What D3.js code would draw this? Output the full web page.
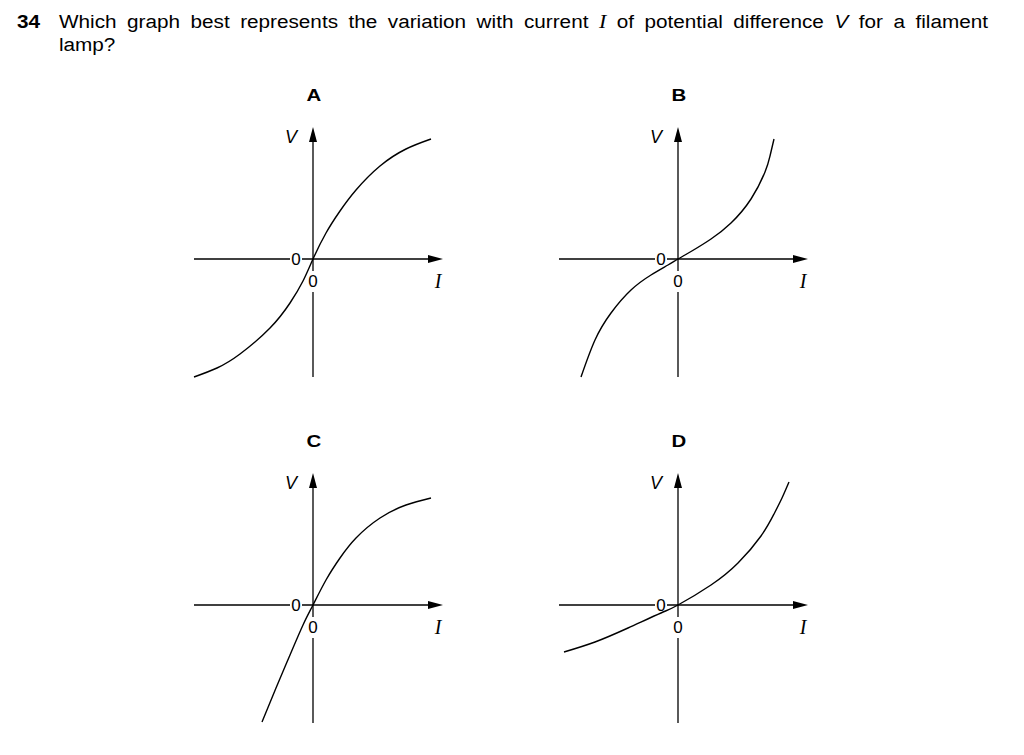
<!DOCTYPE html>
<html>
<head>
<meta charset="utf-8">
<script src="https://cdn.jsdelivr.net/npm/d3@7"></script>
<style>
  html, body { margin: 0; padding: 0; background: #fff; }
  svg { display: block; }
</style>
</head>
<body>
<svg id="chart" width="1024" height="755"></svg>
<script>
// ---- data (arbitrary units) ----
const questionNumber = "34";
const questionLine1 = ["Which","graph","best","represents","the","variation","with","current","I","of","potential","difference","V","for","a","filament"];
const questionLine2 = "lamp?";
const panelLetters = ["A", "B", "C", "D"];
const zeroLabel = "0";
const xAxisLabel = "I";
const yAxisLabel = "V";

const aI = [-11.9, -9.6, -7.3, -4.3, -2.3, -1.0, 0, 1.3, 2.7, 4.3, 6.7, 9.3, 11.8];
const aV = [-11.8, -10.9, -9.5, -6.9, -4.4, -2.2, 0, 2.6, 4.8, 6.9, 9.3, 11.0, 12.0];

const bI = [-9.7, -8.3, -6.7, -4.7, -2.7, -1.0, 0, 1.3, 3.3, 5.3, 7.3, 8.7, 9.2, 9.6];
const bV = [-11.8, -8.1, -5.4, -3.1, -1.6, -0.6, 0, 0.75, 2.0, 3.6, 6.0, 8.7, 10.3, 12.0];

const cI = [-5.1, -3.7, -2.3, -1.0, 0, 1.3, 2.7, 4.3, 6.7, 9.3, 11.8];
const cV = [-11.7, -8.3, -5.0, -2.0, 0, 2.5, 4.7, 6.7, 8.7, 10.0, 10.7];

const dI = [-11.4, -8.3, -5.0, -1.7, 0, 3.3, 6.0, 8.3, 9.6, 10.4, 11.1];
const dV = [-4.7, -3.7, -2.3, -0.8, 0, 2.0, 4.2, 6.9, 9.1, 10.7, 12.3];

const seriesI = [aI, bI, cI, dI];
const seriesV = [aV, bV, cV, dV];

const iDomain = [-11.9, 13.0];
const vDomain = [-11.8, 13.2];

// ---- layout ----
const svg = d3.select("#chart");
const sans = "'Liberation Sans', Arial, sans-serif";
const serif = "'Liberation Serif', 'Times New Roman', serif";
const stretch = 1.15;

function stretched(t, s) {
  const w = t.node().getComputedTextLength() * (s || stretch);
  t.attr("textLength", w).attr("lengthAdjust", "spacingAndGlyphs");
  return w;
}

// title, justified like the original
const title = svg.append("g");
const num = title.append("text")
  .attr("x", 17).attr("y", 27.5)
  .attr("font-family", sans).attr("font-size", 18).attr("font-weight", "bold")
  .text(questionNumber);
stretched(num);

const wordNodes = questionLine1.map(w => title.append("text")
    .attr("y", 27.5)
    .attr("font-size", w === "I" ? 19 : 18)
    .attr("font-family", w === "I" ? serif : sans)
    .attr("font-style", (w === "I" || w === "V") ? "italic" : "normal")
    .text(w));
const widths = wordNodes.map(t => stretched(t));
const left = 59, right = 988;
const gap = (right - left - d3.sum(widths)) / (wordNodes.length - 1);
let cx = left;
wordNodes.forEach((t, i) => { t.attr("x", cx); cx += widths[i] + gap; });

const l2 = title.append("text")
  .attr("x", left).attr("y", 51)
  .attr("font-family", sans).attr("font-size", 18)
  .text(questionLine2);
stretched(l2);

// panels
const origins = [[313, 259], [678, 259], [313, 605], [678, 605]];

panelLetters.forEach((letter, k) => {
  const [ox, oy] = origins[k];
  const x = d3.scaleLinear().domain(iDomain).range([ox - 119, ox + 130]);
  const y = d3.scaleLinear().domain(vDomain).range([oy + 118, oy - 132]);
  const g = svg.append("g");

  const arrowLen = 15, arrowHalf = 4;
  const x0 = x(iDomain[0]), x1 = x(iDomain[1]);
  const y0 = y(vDomain[0]), y1 = y(vDomain[1]);
  const zx = x(0), zy = y(0);

  // axes
  g.append("line").attr("x1", x0).attr("y1", zy).attr("x2", x1 - arrowLen + 1).attr("y2", zy)
    .attr("stroke", "#000").attr("stroke-width", 1.3);
  g.append("path")
    .attr("d", `M${x1},${zy} L${x1 - arrowLen},${zy - arrowHalf} L${x1 - arrowLen},${zy + arrowHalf} Z`)
    .attr("fill", "#000");
  g.append("line").attr("x1", zx).attr("y1", y0).attr("x2", zx).attr("y2", y1 + arrowLen - 1)
    .attr("stroke", "#000").attr("stroke-width", 1.3);
  g.append("path")
    .attr("d", `M${zx},${y1} L${zx - arrowHalf},${y1 + arrowLen} L${zx + arrowHalf},${y1 + arrowLen} Z`)
    .attr("fill", "#000");

  // zero labels with knockouts
  g.append("rect").attr("x", zx - 23).attr("y", zy - 8).attr("width", 12).attr("height", 16).attr("fill", "#fff");
  g.append("text").attr("x", zx - 17).attr("y", zy + 6)
    .attr("text-anchor", "middle").attr("font-family", sans).attr("font-size", 17)
    .text(zeroLabel);
  g.append("rect").attr("x", zx - 6).attr("y", zy + 12).attr("width", 12).attr("height", 21).attr("fill", "#fff");
  g.append("text").attr("x", zx).attr("y", zy + 27.5)
    .attr("text-anchor", "middle").attr("font-family", sans).attr("font-size", 17)
    .text(zeroLabel);

  // axis labels
  g.append("text").attr("x", zx - 22).attr("y", zy - 116)
    .attr("text-anchor", "middle").attr("font-family", sans).attr("font-size", 18).attr("font-style", "italic")
    .text(yAxisLabel);
  g.append("text").attr("x", zx + 125).attr("y", zy + 29)
    .attr("text-anchor", "middle").attr("font-family", serif).attr("font-size", 20).attr("font-style", "italic")
    .text(xAxisLabel);

  // panel letter
  const lt = g.append("text").attr("x", zx + 1).attr("y", zy - 158)
    .attr("text-anchor", "middle").attr("font-family", sans).attr("font-size", 17).attr("font-weight", "bold")
    .text(letter);
  stretched(lt, 1.2);

  // curve
  const pts = seriesI[k].map((v, i) => [v, seriesV[k][i]]);
  const line = d3.line().x(d => x(d[0])).y(d => y(d[1])).curve(d3.curveNatural);
  g.append("path").attr("d", line(pts))
    .attr("fill", "none").attr("stroke", "#000").attr("stroke-width", 1.4);
});
</script>
</body>
</html>
